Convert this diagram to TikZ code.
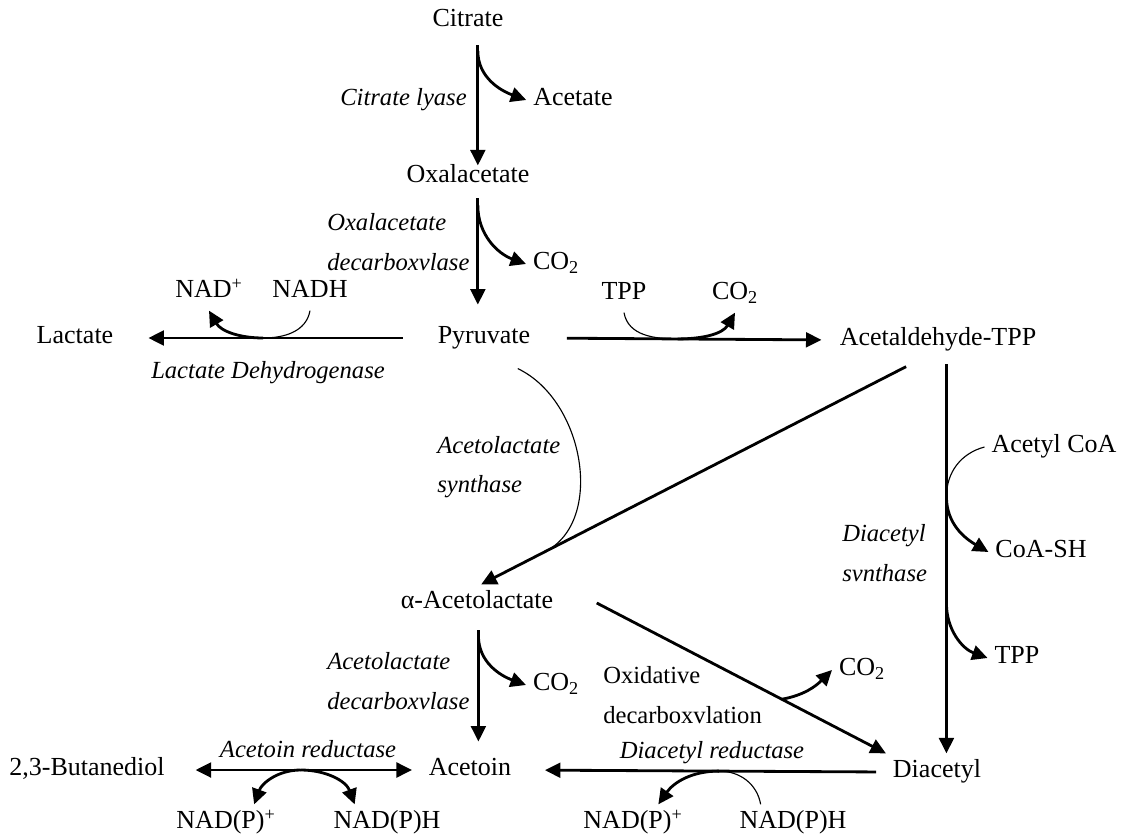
\documentclass[tikz,border=0pt]{standalone}
\usepackage{fontspec}
\setmainfont{Liberation Serif}
\usetikzlibrary{arrows.meta,positioning}
\tikzset{every picture/.style={/utils/exec={\fontsize{18.5}{22}\selectfont}}}

\begin{document}
\begin{tikzpicture}[x=0.025cm,y=-0.025cm]
  \tikzstyle{chem} = [inner sep=2pt, outer sep=3pt, text height=12.5pt, text depth=4pt]
  \tikzstyle{enzyme} = [inner sep=0pt, align=left, font={\itshape\fontsize{17.5}{28}\selectfont}]
  \tikzstyle{process} = [inner sep=0pt, align=left, font={\fontsize{17.5}{28}\selectfont}]
  \tikzstyle{arrow} = [line width=2pt, -{Triangle[length=11pt,width=10.5pt]}]
  \tikzstyle{twoway} = [line width=2pt, {Triangle[length=11pt,width=10.5pt]}-{Triangle[length=11pt,width=10.5pt]}]
  \tikzstyle{cofactor} = [line width=0.8pt]

  \useasboundingbox (0,0) rectangle (1122,839);

  % metabolites
  \node (cit) [chem] at (468,21) {Citrate};
  \node (ace) [chem] at (573,100) {Acetate};
  \node (oxa) [chem] at (468,177) {Oxalacetate};
  \node (co2a) [chem] at (556,264) {CO\textsubscript{2}};
  \node (pyr) [chem] at (484,338) {Pyruvate};
  \node (lac) [chem] at (75,338) {Lactate};
  \node (nadp) [chem] at (209,292) {NAD\textsuperscript{+}};
  \node (nadh) [chem] at (310,292) {NADH};
  \node (tppa) [chem] at (624,294) {TPP};
  \node (co2b) [chem] at (735,294) {CO\textsubscript{2}};
  \node (atpp) [chem] at (938,340) {Acetaldehyde-TPP};
  \node (acoa) [chem] at (1054,447) {Acetyl CoA};
  \node (coash) [chem] at (1041,552) {CoA-SH};
  \node (tppb) [chem] at (1017,658) {TPP};
  \node (ala) [chem] at (477,603) {α-Acetolactate};
  \node (co2c) [chem] at (556,685) {CO\textsubscript{2}};
  \node (co2d) [chem] at (862,670) {CO\textsubscript{2}};
  \node (dia) [chem] at (937,772) {Diacetyl};
  \node (act) [chem] at (470,770) {Acetoin};
  \node (but) [chem] at (87,770) {2,3-Butanediol};
  \node (np1) [chem] at (226,823) {NAD(P)\textsuperscript{+}};
  \node (nph1) [chem] at (387,823) {NAD(P)H};
  \node (np2) [chem] at (633,823) {NAD(P)\textsuperscript{+}};
  \node (nph2) [chem] at (793,823) {NAD(P)H};

  % enzymes
  \node (lyase) [enzyme, anchor=east] at (467,100) {Citrate lyase};
  \node (oad) [enzyme, anchor=west] at (327,242) {Oxalacetate\\decarboxvlase};
  \node (ldh) [enzyme, align=center] at (268,373) {Lactate Dehydrogenase};
  \node (als) [enzyme, anchor=west] at (437,467) {Acetolactate\\synthase};
  \node (dsy) [enzyme, anchor=west] at (842,553) {Diacetyl\\svnthase};
  \node (ald) [enzyme, anchor=west] at (327,681) {Acetolactate\\decarboxvlase};
  \node (oxd) [process, anchor=west] at (603,695) {Oxidative\\decarboxvlation};
  \node (ard) [enzyme, align=center] at (308,749) {Acetoin reductase};
  \node (drd) [enzyme, align=center] at (712,753) {Diacetyl reductase};

  % citrate to pyruvate
  \draw [arrow, shorten <=4pt, shorten >=-5pt] ([xshift=7pt]cit.south) -- ([xshift=7pt]cit.south |- oxa.north);
  \draw [arrow] ([xshift=7pt,yshift=-8pt]cit.south) to[out=-90,in=160] (ace.west);
  \draw [arrow, shorten <=2pt, shorten >=10.5pt] ([xshift=7pt]oxa.south) -- ([xshift=7pt]oxa.south |- pyr.north);
  \draw [arrow] ([xshift=7pt,yshift=-7pt]oxa.south) to[out=-90,in=160] (co2a.west);

  % pyruvate to lactate
  \draw [arrow, shorten <=20pt, shorten >=20pt] (pyr.west) -- coordinate[pos=0.54] (nadjoin) (lac.east);
  \draw [cofactor] (nadh.south) to[out=-100,in=0] (nadjoin);
  \draw [arrow] (nadjoin) to[out=180,in=-60] (nadp.south);

  % pyruvate to acetaldehyde-TPP
  \draw [arrow, shorten <=21pt, shorten >=8pt] (pyr.east) -- coordinate[pos=0.475] (tppjoin) (atpp.west);
  \draw [cofactor] (tppa.south) to[out=-80,in=180] (tppjoin);
  \draw [arrow] (tppjoin) to[out=0,in=-120] (co2b.south);

  % acetaldehyde-TPP to alpha-acetolactate
  \draw [arrow] ([xshift=-22.7pt,yshift=-5.7pt]atpp.south) -- coordinate[pos=0.85] (alsjoin) ([xshift=3pt]ala.north);
  \draw [cofactor] ([xshift=24pt,yshift=-8.5pt]pyr.south) .. controls +(67,32) and +(60,-30) .. (alsjoin);

  % acetaldehyde-TPP to diacetyl
  \draw [arrow, shorten <=4pt] ([xshift=6pt]atpp.south) -- coordinate[pos=0.35] (coajoin) coordinate[pos=0.62] (tppjoinb) ([xshift=6pt]atpp.south |- dia.north);
  \draw [cofactor] (acoa.west) to[out=195,in=90] (coajoin);
  \draw [arrow] (coajoin) to[out=-90,in=150] (coash.west);
  \draw [arrow] (tppjoinb) to[out=-90,in=160] (tppb.west);

  % alpha-acetolactate to acetoin and diacetyl
  \draw [arrow, shorten <=6pt, shorten >=7pt] ([xshift=1pt]ala.south) -- ([xshift=1pt]ala.south |- act.north);
  \draw [arrow] ([xshift=1pt,yshift=-10pt]ala.south) to[out=-90,in=160] (co2c.west);
  \draw [arrow] ([xshift=26pt]ala.east) -- coordinate[pos=0.64] (oxjoin) (dia.north west);
  \draw [arrow] (oxjoin) to[out=10,in=-135] (co2d.west);

  % diacetyl to acetoin
  \draw [arrow, shorten <=7pt, shorten >=19pt] (dia.west) -- coordinate[pos=0.454] (drdjoin) (act.east);
  \draw [cofactor] ([xshift=-23pt]nph2.north) to[out=100,in=0] (drdjoin);
  \draw [arrow] (drdjoin) to[out=180,in=55] ([xshift=18pt]np2.north);

  % acetoin and 2,3-butanediol
  \draw [twoway, shorten <=17pt, shorten >=7pt] (but.east) -- coordinate[pos=0.516] (ardjoin) (act.west);
  \draw [arrow] (ardjoin) to[out=180,in=70] ([xshift=20pt]np1.north);
  \draw [arrow] (ardjoin) to[out=0,in=110] ([xshift=-23pt]nph1.north);
\end{tikzpicture}
\end{document}
